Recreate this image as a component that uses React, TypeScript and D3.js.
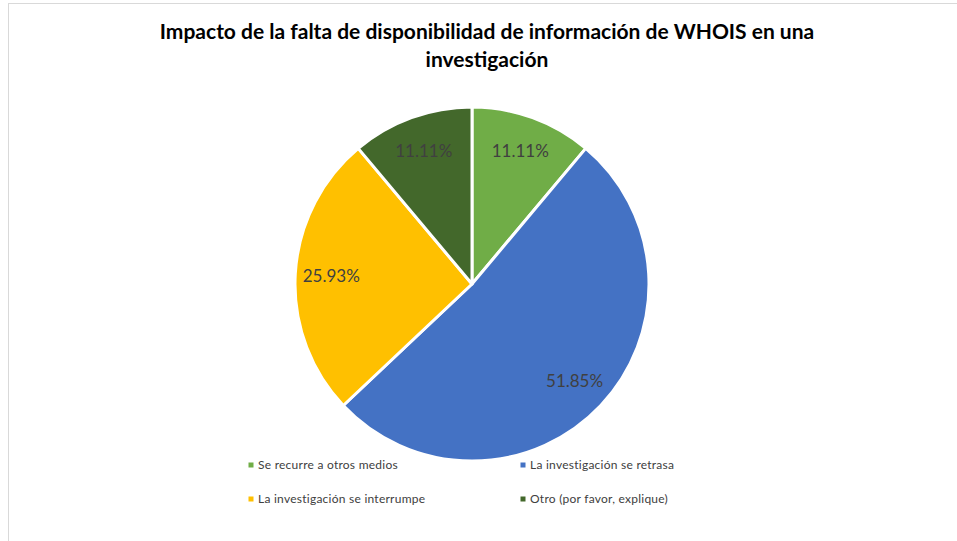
import React from "react";
import * as d3 from "d3";

const categories = [
  "Se recurre a otros medios",
  "La investigación se retrasa",
  "La investigación se interrumpe",
  "Otro (por favor, explique)",
];
const values = [11.11, 51.85, 25.93, 11.11];
const colors = ["#70AD47", "#4472C4", "#FFC000", "#43682B"];
const titleLines = [
  "Impacto de la falta de disponibilidad de información de WHOIS en una",
  "investigación",
];

export default function App() {
  const W = 957, H = 541;
  const cx = 472, cy = 284, r = 177;
  const pie = d3.pie<number>().sort(null).value((d) => d)(values);
  const arc = d3.arc<d3.PieArcDatum<number>>().innerRadius(0).outerRadius(r);
  const labelArc = d3.arc<d3.PieArcDatum<number>>().innerRadius(141).outerRadius(141);
  const legendPos = [
    [251, 465],
    [523, 465],
    [251, 499],
    [523, 499],
  ];
  return (
    <svg width={W} height={H} style={{ position: "absolute", left: 0, top: 0 }}>
      <rect x={0} y={0} width={W} height={H} fill="#fff" />
      <rect x={8.5} y={3.5} width={1000} height={600} fill="#fff" stroke="#d9d9d9" strokeWidth={1} />
      {titleLines.map((t, i) => (
        <text
          key={i}
          x={487}
          y={39 + i * 28}
          textAnchor="middle"
          fontFamily="Lato, 'Open Sans', sans-serif"
          fontWeight="bold"
          fontSize={21}
          fill="#000"
        >
          {t}
        </text>
      ))}
      <g transform={`translate(${cx},${cy})`}>
        {pie.map((p, i) => (
          <path key={i} d={arc(p) || ""} fill={colors[i]} stroke="#fff" strokeWidth={3} strokeLinejoin="round" />
        ))}
        {pie.map((p, i) => {
          const [x, y] = labelArc.centroid(p);
          return (
            <text
              key={i}
              x={x}
              y={y}
              dy="0.35em"
              textAnchor="middle"
              fontFamily="Lato, 'Open Sans', sans-serif"
              fontSize={17}
              fill="#404040"
            >
              {values[i].toFixed(2)}%
            </text>
          );
        })}
      </g>
      {categories.map((c, i) => (
        <g key={i} transform={`translate(${legendPos[i][0]},${legendPos[i][1]})`}>
          <rect x={-2.5} y={-2.5} width={5} height={5} fill={colors[i]} />
          <text
            x={7}
            y={0}
            dy="0.35em"
            fontFamily="Lato, 'Open Sans', sans-serif"
            fontSize={12}
            letterSpacing={0.25}
            fill="#404040"
          >
            {c}
          </text>
        </g>
      ))}
    </svg>
  );
}
